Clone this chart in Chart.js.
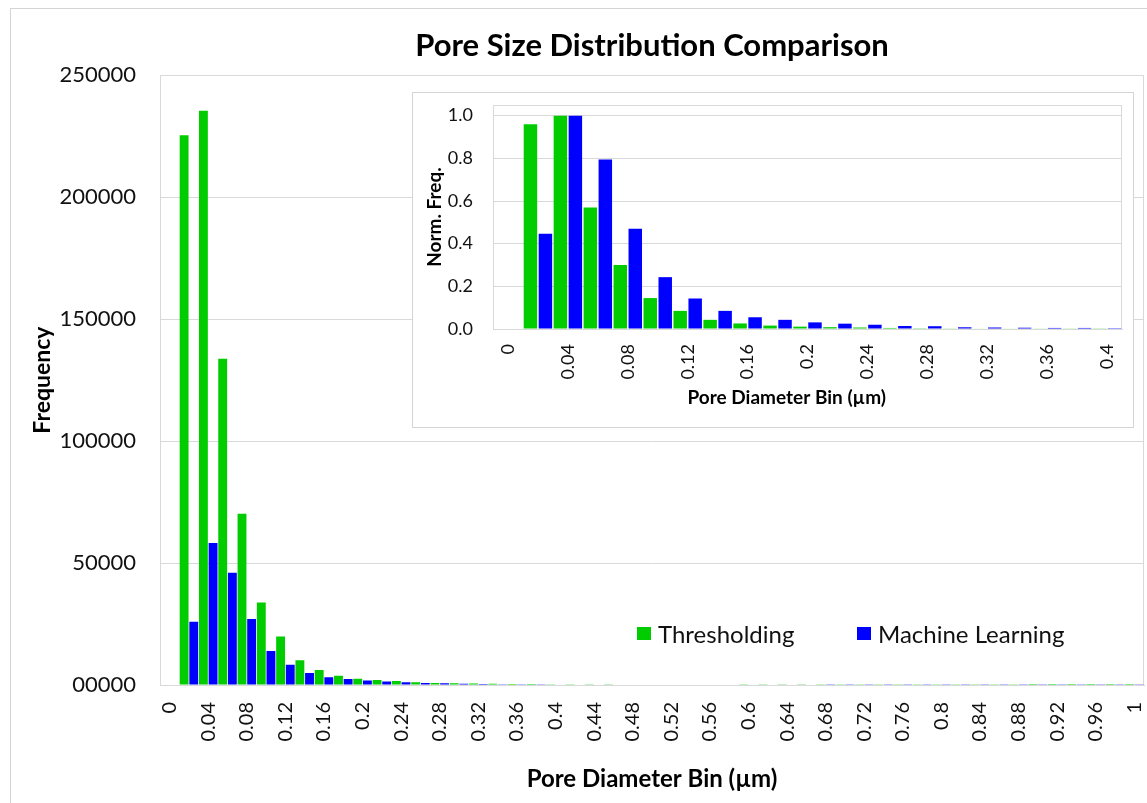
<!DOCTYPE html>
<html>
<head>
<meta charset="utf-8">
<script src="https://cdn.jsdelivr.net/npm/chart.js@4.4.1/dist/chart.umd.min.js"></script>
<style>
  html, body { margin: 0; padding: 0; background: #fff; }
  body { width: 1147px; height: 803px; position: relative; overflow: hidden; font-family: Lato, sans-serif; }
  #frame { position: absolute; left: 10px; top: 8px; width: 1160px; height: 820px; border: 1px solid #d4d4d4; box-sizing: border-box; }
  #main { position: absolute; left: 0; top: 0; }
  #insetBox { position: absolute; left: 412px; top: 92px; width: 722px; height: 336px; border: 1px solid #d4d4d4; background: #fff; box-sizing: border-box; }
  #inset { position: absolute; left: 0; top: 0; }
  .leg { position: absolute; top: 620px; height: 26px; display: flex; align-items: center; font-size: 24px; color: #111; white-space: nowrap; }
  .sw { width: 14px; height: 13px; margin-right: 7px; }
</style>
</head>
<body>
<div id="frame"></div>
<canvas id="main" width="1147" height="803"></canvas>
<div id="insetBox"><canvas id="inset" width="720" height="334"></canvas></div>
<div class="leg" style="left:637px"><div class="sw" style="background:#00CC00"></div>Thresholding</div>
<div class="leg" style="left:857px"><div class="sw" style="background:#0000FF"></div>Machine Learning</div>
<script>
// ---------- data ----------
const mainCategories = ['0','0.02','0.04','0.06','0.08','0.1','0.12','0.14','0.16','0.18',
  '0.2','0.22','0.24','0.26','0.28','0.3','0.32','0.34','0.36','0.38',
  '0.4','0.42','0.44','0.46','0.48','0.5','0.52','0.54','0.56','0.58',
  '0.6','0.62','0.64','0.66','0.68','0.7','0.72','0.74','0.76','0.78',
  '0.8','0.82','0.84','0.86','0.88','0.9','0.92','0.94','0.96','0.98','1'];
const thresholdingFreq = [0, 225400, 235400, 133800, 70200, 33800, 19900, 10100, 6100, 3800,
  2600, 2000, 1600, 1150, 850, 700, 600, 500, 450, 400,
  350, 320, 290, 260, 240, 220, 200, 180, 170, 160,
  150, 140, 130, 120, 110, 100, 95, 90, 85, 80,
  75, 70, 65, 60, 55, 50, 48, 45, 42, 40, 38];
const machineLearningFreq = [0, 25900, 58200, 46000, 27100, 13900, 8300, 4900, 3200, 2500,
  1800, 1450, 1100, 820, 750, 480, 420, 350, 300, 290,
  240, 230, 220, 210, 200, 195, 190, 185, 180, 175,
  170, 165, 160, 155, 150, 145, 140, 135, 130, 125,
  120, 118, 115, 112, 110, 108, 105, 102, 100, 98, 95];
const mainYTickLabels = ['00000', '50000', '100000', '150000', '200000', '250000'];

const insetCategories = ['0','0.02','0.04','0.06','0.08','0.1','0.12','0.14','0.16','0.18',
  '0.2','0.22','0.24','0.26','0.28','0.3','0.32','0.34','0.36','0.38','0.4'];
const thresholdingNorm = [0, 0.96, 1.0, 0.57, 0.30, 0.145, 0.085, 0.043, 0.026, 0.016,
  0.011, 0.0085, 0.007, 0.005, 0.0036, 0.003, 0.0026, 0.0021, 0.0019, 0.0017, 0.0015];
const machineLearningNorm = [0, 0.447, 1.0, 0.794, 0.47, 0.243, 0.143, 0.085, 0.055, 0.043,
  0.031, 0.025, 0.02, 0.014, 0.013, 0.008, 0.007, 0.006, 0.005, 0.005, 0.004];
const insetYTicks = [0, 0.2, 0.4, 0.6, 0.8, 1.0];

const GREEN = '#00CC00';
const BLUE = '#0000FF';
const GRID = '#d9d9d9';
const TXT = '#111111';

Chart.defaults.font.family = 'Lato, sans-serif';
Chart.defaults.color = TXT;

const plotBorder = {
  id: 'plotBorder',
  beforeDatasetsDraw(chart) {
    const a = chart.chartArea, ctx = chart.ctx;
    ctx.save();
    ctx.strokeStyle = GRID;
    ctx.lineWidth = 1;
    ctx.strokeRect(Math.round(a.left) + 0.5, Math.round(a.top) + 0.5,
      Math.round(a.right - a.left) - 1, Math.round(a.bottom - a.top));
    ctx.restore();
  }
};
const zeroPad = (s) => { s.paddingLeft = 0; s.paddingRight = 0; s.paddingTop = 0; s.paddingBottom = 0; };

// ---------- main chart ----------
new Chart(document.getElementById('main'), {
  type: 'bar',
  data: {
    labels: mainCategories,
    datasets: [
      { label: 'Thresholding', data: thresholdingFreq, backgroundColor: GREEN, borderWidth: 0,
        categoryPercentage: 1.0, barPercentage: 0.92 },
      { label: 'Machine Learning', data: machineLearningFreq, backgroundColor: BLUE, borderWidth: 0,
        categoryPercentage: 1.0, barPercentage: 0.92 }
    ]
  },
  options: {
    responsive: false,
    animation: false,
    devicePixelRatio: 1,
    layout: { padding: { left: 0, right: 3, top: 0, bottom: 0 } },
    plugins: {
      legend: { display: false },
      tooltip: { enabled: false },
      title: {
        display: true, fullSize: false,
        text: 'Pore Size Distribution Comparison',
        color: '#000',
        font: { size: 31, weight: 'bold' },
        padding: { top: 27, bottom: 11 }
      }
    },
    scales: {
      x: {
        type: 'category',
        grid: { display: false, drawTicks: false },
        border: { display: true, color: GRID },
        ticks: {
          autoSkip: false, minRotation: 90, maxRotation: 90, padding: 17,
          font: { size: 20 }, color: TXT,
          callback: (v, i) => (i % 2 === 0 ? mainCategories[i] : '')
        },
        title: { display: true, text: 'Pore Diameter Bin (µm)', color: '#000',
          font: { size: 24, weight: 'bold' }, padding: { top: 0, bottom: 9 } },
        afterFit: (s) => { s.height = 118; zeroPad(s); }
      },
      y: {
        min: 0, max: 250000,
        grid: { color: GRID, drawTicks: false },
        border: { display: true, color: GRID },
        ticks: { stepSize: 50000, padding: 24, font: { size: 22 }, color: TXT,
          callback: (v) => mainYTickLabels[Math.round(v / 50000)] },
        title: { display: true, text: 'Frequency', color: '#000',
          font: { size: 23, weight: 'bold' }, padding: { top: 29, bottom: 0 } },
        afterFit: (s) => { s.width = 160; zeroPad(s); }
      }
    }
  },
  plugins: [plotBorder]
});

// ---------- inset chart ----------
new Chart(document.getElementById('inset'), {
  type: 'bar',
  data: {
    labels: insetCategories,
    datasets: [
      { label: 'Thresholding', data: thresholdingNorm, backgroundColor: GREEN, borderWidth: 0,
        categoryPercentage: 1.0, barPercentage: 0.9 },
      { label: 'Machine Learning', data: machineLearningNorm, backgroundColor: BLUE, borderWidth: 0,
        categoryPercentage: 1.0, barPercentage: 0.9 }
    ]
  },
  options: {
    responsive: false,
    animation: false,
    devicePixelRatio: 1,
    layout: { padding: { left: 0, right: 11, top: 12, bottom: 0 } },
    plugins: { legend: { display: false }, tooltip: { enabled: false }, title: { display: false } },
    scales: {
      x: {
        type: 'category',
        grid: { display: false, drawTicks: false },
        border: { display: true, color: GRID },
        ticks: {
          autoSkip: false, minRotation: 90, maxRotation: 90, padding: 15,
          font: { size: 18 }, color: TXT,
          callback: (v, i) => (i % 2 === 0 ? insetCategories[i] : '')
        },
        title: { display: true, text: 'Pore Diameter Bin (µm)         ', color: '#000',
          font: { size: 19, weight: 'bold' }, padding: { top: 0, bottom: 18 } },
        afterFit: (s) => { s.height = 98; zeroPad(s); }
      },
      y: {
        min: 0, max: 1.05,
        grid: { color: GRID, drawTicks: false },
        border: { display: true, color: GRID },
        afterBuildTicks: (s) => { s.ticks = insetYTicks.map(v => ({ value: v })); },
        ticks: { padding: 20, font: { size: 18 }, color: TXT,
          callback: (v) => Number(v).toFixed(1) },
        title: { display: true, text: 'Norm. Freq.', color: '#000',
          font: { size: 19, weight: 'bold' }, padding: { top: 10, bottom: 0 } },
        afterFit: (s) => { s.width = 80; zeroPad(s); }
      }
    }
  },
  plugins: [plotBorder]
});
</script>
</body>
</html>
